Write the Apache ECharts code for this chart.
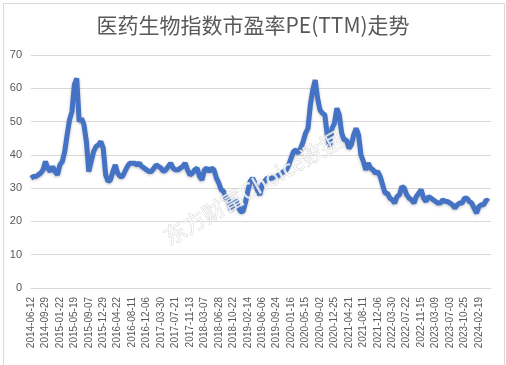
<!DOCTYPE html>
<html>
<head>
<meta charset="utf-8">
<script src="https://cdn.jsdelivr.net/npm/echarts@6/dist/echarts.min.js"></script>
<style>
html,body{margin:0;padding:0;background:#fff;}
#c{width:506px;height:365px;}
</style>
</head>
<body>
<div id="c"></div>
<script>
const title = '医药生物指数市盈率PE(TTM)走势';
const watermark = '东方财富Choice数据';
const tickLabels = ['2014-06-12','2014-09-29','2015-01-22','2015-05-19','2015-09-07','2015-12-29','2016-04-22','2016-08-11','2016-12-06','2017-03-30','2017-07-21','2017-11-13','2018-03-07','2018-06-28','2018-10-22','2019-02-14','2019-06-06','2019-09-24','2020-01-16','2020-05-15','2020-09-02','2020-12-25','2021-04-21','2021-08-11','2021-12-06','2022-03-30','2022-07-22','2022-11-15','2023-03-09','2023-07-03','2023-10-25','2024-02-19'];
const pointsPerTick = 6;
const totalCategories = 192;
const peValues = [
33,33.5,33.5,34,34.5,35.5,38,36,35,36.5,35,34,37,38,41,46,50.5,53,61,63,
50,51,49,44,35,38,41,42.5,43,44,42,34,32,32.5,35,37,34.5,33.5,33.5,35,
36.5,37.5,37.5,37.5,37,37.5,36.5,36,35.5,35,35,36,37,36.5,36,35,35.5,36.5,37.5,36,
35.5,35.5,36,36.5,37.5,35.5,34,34.5,35.5,36,33.5,32.5,35.5,36,35,36,35.5,33,31.5,29.5,
29,27,26.5,23.5,25,26.5,24.5,23,23,25.5,29,32,33,31.5,29.5,28,31,32,33,33,
33,33.5,33.5,34,34.5,35,35.5,37,39,41,41.5,40.5,42,44,46.5,48,55,59.5,62.5,57,
53.5,52.5,52,46,42.5,48,49.5,54,52,46.5,44.5,44.5,42,43,46,48,46,40,38,35.5,
37.5,36,35.5,34.5,35,33.5,31,28.5,28.5,27,26.5,25.5,27.5,28,30.5,30,28,27,26.5,25.5,
27.5,28.5,29.5,27,26,27.5,27,26.5,26,25.5,25.5,26.5,26,26,25.5,25,24,25,25.5,25.5,
27,27,26,25.5,24,22.5,24.5,25,25,26.5,26
];

const categories = [];
for (let i = 0; i < totalCategories; i++) {
  const k = i / pointsPerTick;
  categories.push(i % pointsPerTick === 0 && k < tickLabels.length ? tickLabels[k] : '');
}

const chart = echarts.init(document.getElementById('c'), null, {renderer: 'canvas'});
chart.setOption({
  backgroundColor: '#fff',
  animation: false,
  title: {
    text: title,
    left: 'center',
    top: 10,
    textStyle: {fontFamily: '"Noto Sans CJK SC", sans-serif', fontSize: 21, fontWeight: 'normal', color: '#595959'}
  },
  grid: {left: 31, right: 15, top: 55, bottom: 77, containLabel: false},
  xAxis: {
    type: 'category',
    data: categories,
    boundaryGap: false,
    axisLine: {show: true, lineStyle: {color: '#d9d9d9', width: 1}},
    axisTick: {show: false},
    axisLabel: {
      interval: 0, rotate: 90, margin: 9,
      fontFamily: '"Liberation Sans", Arial, sans-serif', fontSize: 10, color: '#595959'
    },
    splitLine: {show: false}
  },
  yAxis: {
    type: 'value',
    min: 0, max: 70, interval: 10,
    axisLine: {show: false},
    axisTick: {show: false},
    axisLabel: {fontFamily: '"Liberation Sans", Arial, sans-serif', fontSize: 11, color: '#595959', margin: 9},
    splitLine: {lineStyle: {color: '#d9d9d9', width: 1}}
  },
  series: [{
    type: 'line',
    data: peValues,
    showSymbol: false,
    lineStyle: {color: '#4472C4', width: 5, shadowBlur: 3, shadowColor: 'rgba(0,0,0,0.25)', shadowOffsetY: 1},
    itemStyle: {color: '#4472C4'}
  }],
  graphic: [
    {
      type: 'rect', left: 1, top: 1, z: -1,
      shape: {width: 501, height: 362},
      style: {fill: 'none', stroke: '#d9d9d9', lineWidth: 1}
    },
    {
      type: 'text', x: 253, y: 188, rotation: Math.PI * 30 / 180, z: 100,
      style: {
        text: watermark, align: 'center', verticalAlign: 'middle',
        font: '22px "Noto Sans CJK SC", sans-serif',
        fill: 'rgba(255,255,255,0.8)', stroke: 'rgba(180,180,180,0.6)', lineWidth: 0.8
      }
    }
  ]
});
</script>
</body>
</html>
